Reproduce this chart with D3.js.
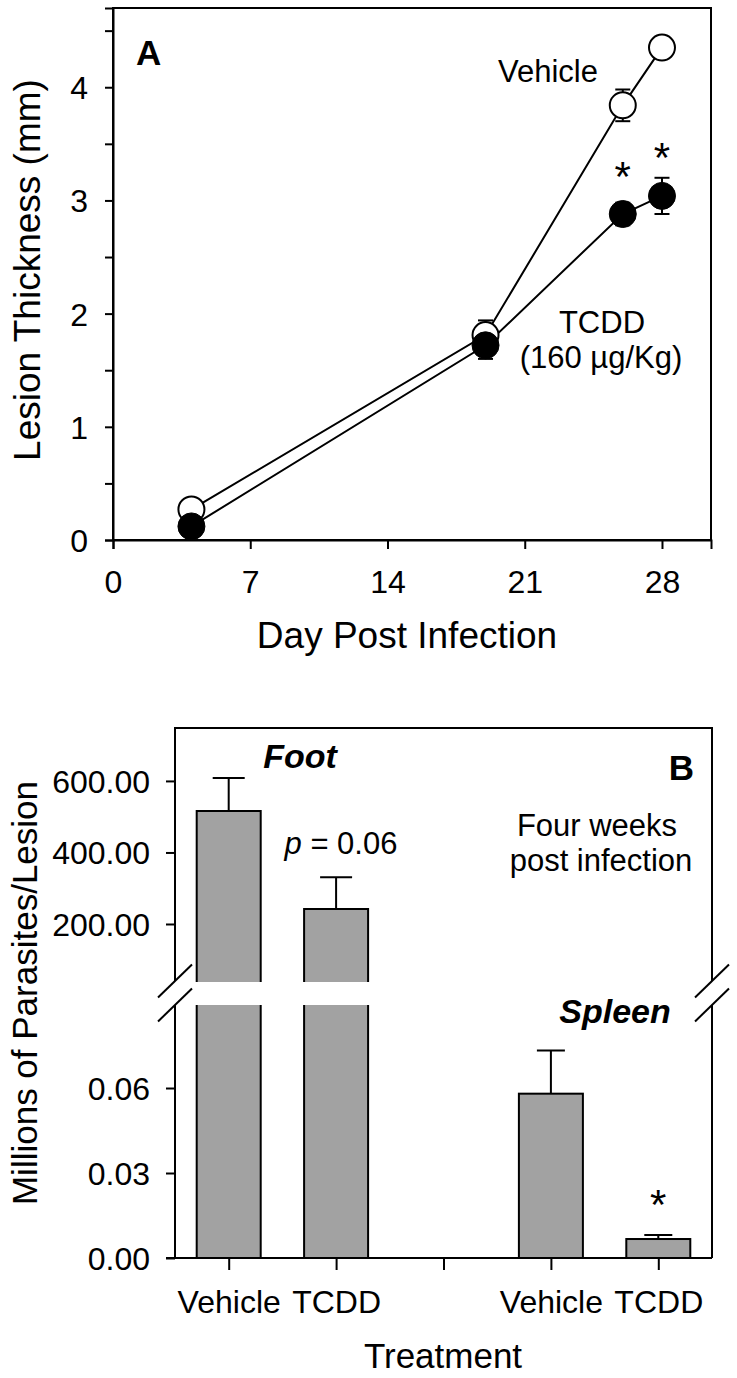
<!DOCTYPE html>
<html>
<head>
<meta charset="utf-8">
<script src="https://cdn.jsdelivr.net/npm/d3@7"></script>
<style>
  html, body { margin: 0; padding: 0; background: #fff; }
  svg { display: block; }
  text { font-family: "Liberation Sans", Arial, Helvetica, sans-serif; fill: #000; }
</style>
</head>
<body>
<svg id="chart" width="737" height="1378"></svg>
<script>
// ---------------- Panel A data ----------------
const dayPoints = [4, 19, 26, 28];
const vehicleMean = [0.27, 1.81, 3.84, 4.35];
const vehicleSE = [0.02, 0.13, 0.14, 0.04];
const tcddMean = [0.12, 1.72, 2.88, 3.04];
const tcddSE = [0.03, 0.12, 0.10, 0.16];
const significantDays = [26, 28];
const starLevelsA = [3.27, 3.44];      // height (mm) at which each star sits
const dayTicks = [0, 7, 14, 21, 28];
const thicknessTicks = [0, 1, 2, 3, 4];
const thicknessMinorTicks = [0.5, 1.5, 2.5, 3.5, 4.5];

// ---------------- Panel B data ----------------
const treatmentSlots = ["footVehicle", "footTCDD", "gap", "spleenVehicle", "spleenTCDD"];
const treatmentLabels = ["Vehicle", "TCDD", "", "Vehicle", "TCDD"];
const footSlots = ["footVehicle", "footTCDD"];
const footMeans = [516, 242];
const footSE = [92, 89];
const spleenSlots = ["spleenVehicle", "spleenTCDD"];
const spleenMeans = [0.058, 0.0067];
const spleenSE = [0.0152, 0.0014];
const spleenSignificant = ["spleenTCDD"];
const spleenStarLevel = 0.0212;
const upperTicks = [200, 400, 600];
const lowerTicks = [0, 0.03, 0.06];

const svg = d3.select("#chart");

function stext(g, x, y, str, size, anchor, weight, style) {
  return g.append("text")
    .attr("x", x).attr("y", y)
    .attr("text-anchor", anchor || "middle")
    .attr("font-size", size)
    .attr("font-weight", weight || "normal")
    .attr("font-style", style || "normal")
    .text(str);
}

// ================= PANEL A =================
const A = { left: 113, right: 711, top: 8, bottom: 540 };
const xA = d3.scaleLinear().domain([0, 30.5]).range([A.left, A.right]);
const yA = d3.scaleLinear().domain([0, 4.7]).range([A.bottom, A.top]);
const gA = svg.append("g");

gA.append("rect").attr("x", A.left).attr("y", A.top)
  .attr("width", A.right - A.left).attr("height", A.bottom - A.top)
  .attr("fill", "none").attr("stroke", "#000").attr("stroke-width", 2);

const yAxisA = gA.append("g").attr("transform", `translate(${A.left},0)`)
  .call(d3.axisLeft(yA).tickValues(thicknessTicks).tickSize(8).tickFormat(d3.format("d")));
gA.append("g").attr("transform", `translate(${A.left},0)`)
  .call(d3.axisLeft(yA).tickValues(thicknessMinorTicks).tickSize(8).tickFormat(""))
  .call(g => g.select(".domain").remove());
const xAxisA = gA.append("g").attr("transform", `translate(0,${A.bottom})`)
  .call(d3.axisBottom(xA).tickValues(dayTicks).tickSize(9).tickFormat(d3.format("d")));

[yAxisA, xAxisA].forEach(ax => ax.select(".domain").attr("stroke-width", 2));
gA.selectAll(".tick line").attr("stroke-width", 2);
yAxisA.selectAll(".tick text").attr("x", -25).attr("dy", "0.36em")
  .attr("font-size", 32).attr("font-family", null);
xAxisA.selectAll(".tick text").attr("y", 53).attr("dy", 0)
  .attr("font-size", 32).attr("font-family", null);

gA.append("text").attr("transform", "translate(40,270) rotate(-90)")
  .attr("text-anchor", "middle").attr("font-size", 37).text("Lesion Thickness (mm)");
stext(gA, 407, 648, "Day Post Infection", 37);

const lineA = d3.line().x(d => xA(d[0])).y(d => yA(d[1]));
const vehData = dayPoints.map((d, i) => [d, vehicleMean[i], vehicleSE[i]]);
const tcdData = dayPoints.map((d, i) => [d, tcddMean[i], tcddSE[i]]);
[vehData, tcdData].forEach(data => {
  gA.append("path").datum(data).attr("d", lineA)
    .attr("fill", "none").attr("stroke", "#000").attr("stroke-width", 2);
});
function errA(data) {
  const g = gA.append("g").attr("stroke", "#000").attr("stroke-width", 2);
  data.forEach(d => {
    const x = xA(d[0]), y1 = yA(d[1] - d[2]), y2 = yA(d[1] + d[2]);
    g.append("line").attr("x1", x).attr("x2", x).attr("y1", y1).attr("y2", y2);
    g.append("line").attr("x1", x - 7.5).attr("x2", x + 7.5).attr("y1", y1).attr("y2", y1);
    g.append("line").attr("x1", x - 7.5).attr("x2", x + 7.5).attr("y1", y2).attr("y2", y2);
  });
}
errA(vehData); errA(tcdData);
gA.selectAll(".veh").data(vehData).join("circle")
  .attr("cx", d => xA(d[0])).attr("cy", d => yA(d[1])).attr("r", 13)
  .attr("fill", "#fff").attr("stroke", "#000").attr("stroke-width", 2);
gA.selectAll(".tcd").data(tcdData).join("circle")
  .attr("cx", d => xA(d[0])).attr("cy", d => yA(d[1])).attr("r", 13.5)
  .attr("fill", "#000").attr("stroke", "#000").attr("stroke-width", 1);
significantDays.forEach((day, i) => {
  stext(gA, xA(day), yA(starLevelsA[i]) + 21, "*", 42);
});
stext(gA, 136, 65, "A", 35, "start", "bold");
stext(gA, 548, 82, "Vehicle", 31);
stext(gA, 602, 333, "TCDD", 31);
stext(gA, 601, 368, "(160 µg/Kg)", 31);

// ================= PANEL B =================
const B = { left: 175, right: 712, top: 728, bottom: 1258, breakTop: 982, breakBottom: 1005 };
const xB = d3.scalePoint().domain(treatmentSlots).range([B.left, B.right]).padding(0.5);
const yUpper = d3.scaleLinear().domain([37.8, 748]).range([B.breakTop, B.top]);
const yLower = d3.scaleLinear().domain([0, 0.0893]).range([B.bottom, B.breakBottom]);
const barW = 64;
const gB = svg.append("g");
const BAR_FILL = "#a2a2a2";

footSlots.forEach((s, i) => {
  const x0 = xB(s) - barW / 2, x1 = xB(s) + barW / 2;
  const yt = yUpper(footMeans[i]);
  gB.append("rect").attr("x", x0).attr("y", yt).attr("width", barW)
    .attr("height", B.breakTop - yt).attr("fill", BAR_FILL);
  gB.append("rect").attr("x", x0).attr("y", B.breakBottom).attr("width", barW)
    .attr("height", B.bottom - B.breakBottom).attr("fill", BAR_FILL);
  gB.append("path")
    .attr("d", `M${x0},${B.breakTop}V${yt}H${x1}V${B.breakTop}M${x0},${B.breakBottom}V${B.bottom}M${x1},${B.breakBottom}V${B.bottom}`)
    .attr("fill", "none").attr("stroke", "#000").attr("stroke-width", 2);
  const ye = yUpper(footMeans[i] + footSE[i]);
  gB.append("path").attr("d", `M${xB(s)},${yt}V${ye}M${xB(s) - 16},${ye}H${xB(s) + 16}`)
    .attr("fill", "none").attr("stroke", "#000").attr("stroke-width", 2);
});
spleenSlots.forEach((s, i) => {
  const x0 = xB(s) - barW / 2;
  const yt = yLower(spleenMeans[i]);
  gB.append("rect").attr("x", x0).attr("y", yt).attr("width", barW)
    .attr("height", B.bottom - yt).attr("fill", BAR_FILL)
    .attr("stroke", "#000").attr("stroke-width", 2);
  const ye = yLower(spleenMeans[i] + spleenSE[i]);
  gB.append("path").attr("d", `M${xB(s)},${yt}V${ye}M${xB(s) - 14},${ye}H${xB(s) + 14}`)
    .attr("fill", "none").attr("stroke", "#000").attr("stroke-width", 2);
  if (spleenSignificant.includes(s)) stext(gB, xB(s), yLower(spleenStarLevel) + 21, "*", 42);
});

gB.append("path")
  .attr("d", `M${B.left},${B.breakTop - 1}V${B.top}H${B.right}V${B.breakTop - 1}` +
             `M${B.left},${B.breakBottom}V${B.bottom}M${B.right},${B.breakBottom}V${B.bottom}`)
  .attr("fill", "none").attr("stroke", "#000").attr("stroke-width", 2);
[B.left, B.right].forEach(x => {
  [B.breakTop - 1, B.breakBottom].forEach(y => {
    gB.append("line").attr("x1", x - 17).attr("y1", y + 16.5).attr("x2", x + 17).attr("y2", y - 16.5)
      .attr("stroke", "#000").attr("stroke-width", 2);
  });
});

const yUpAx = gB.append("g").attr("transform", `translate(${B.left},0)`)
  .call(d3.axisLeft(yUpper).tickValues(upperTicks).tickSize(9).tickFormat(d3.format(".2f")));
const yLoAx = gB.append("g").attr("transform", `translate(${B.left},0)`)
  .call(d3.axisLeft(yLower).tickValues(lowerTicks).tickSize(9).tickFormat(d3.format(".2f")));
const xBAx = gB.append("g").attr("transform", `translate(0,${B.bottom})`)
  .call(d3.axisBottom(xB).tickSize(12).tickSizeOuter(0).tickFormat((d, i) => treatmentLabels[i]));
[yUpAx, yLoAx, xBAx].forEach(ax => ax.select(".domain").remove());
gB.append("line").attr("x1", B.left - 9).attr("x2", B.right).attr("y1", B.bottom).attr("y2", B.bottom)
  .attr("stroke", "#000").attr("stroke-width", 2);
gB.selectAll(".tick line").attr("stroke-width", 2);
[yUpAx, yLoAx].forEach(ax => ax.selectAll(".tick text").attr("x", -25).attr("dy", "0.36em")
  .attr("font-size", 32).attr("font-family", null));
xBAx.selectAll(".tick text").attr("y", 55).attr("dy", 0)
  .attr("font-size", 32).attr("font-family", null);

gB.append("text").attr("transform", "translate(37,993) rotate(-90)")
  .attr("text-anchor", "middle").attr("font-size", 35).text("Millions of Parasites/Lesion");
stext(gB, 443, 1368, "Treatment", 35);

stext(gB, 300, 768, "Foot", 34, "middle", "bold", "italic");
stext(gB, 615, 1023, "Spleen", 34, "middle", "bold", "italic");
stext(gB, 694, 780, "B", 35, "end", "bold");
stext(gB, 597, 836, "Four weeks", 31);
stext(gB, 601, 871, "post infection", 31);
const pt = gB.append("text").attr("x", 341).attr("y", 854)
  .attr("text-anchor", "middle").attr("font-size", 31);
pt.append("tspan").attr("font-style", "italic").text("p");
pt.append("tspan").text(" = 0.06");
</script>
</body>
</html>
